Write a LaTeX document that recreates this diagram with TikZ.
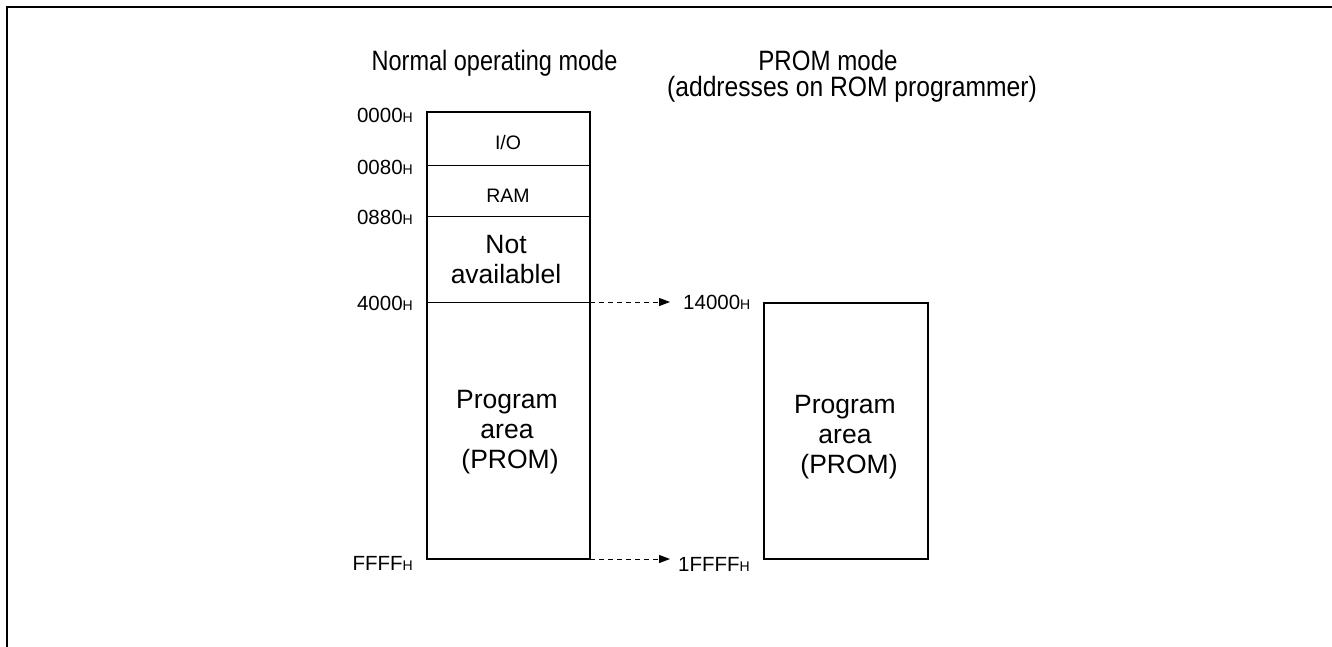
\documentclass[tikz,border=0pt]{standalone}
\usepackage{fontspec}
\setmainfont{Liberation Sans}
\usetikzlibrary{arrows.meta}
\newcommand\Hx{{\fontsize{14}{14}\selectfont H}}
\begin{document}
\begin{tikzpicture}[x=1pt,y=-1pt,
  bigtext/.style={font=\fontsize{26.5}{30}\selectfont, align=center, inner sep=0pt, anchor=base},
  smalltext/.style={font=\fontsize{19.5}{22}\selectfont, inner sep=0pt, anchor=base},
  addrl/.style={font=\fontsize{20.5}{22}\selectfont, inner sep=0pt, anchor=base east},
  addrr/.style={font=\fontsize{20.5}{22}\selectfont, inner sep=0pt, anchor=base west},
  titletext/.style={font=\fontsize{28}{28}\selectfont, inner sep=0pt, anchor=base},
  membox/.style={draw, line width=2pt},
  sepline/.style={draw, line width=1pt},
  dasharrow/.style={line width=1pt, dash pattern=on 5pt off 4pt, -{Triangle[length=11pt,width=8pt]}},
  framestyle/.style={line width=2pt}]
\useasboundingbox (0,0) rectangle (1332,647);
% frame
\draw[framestyle] (7,650) -- (7,7) -- (1336,7);
% titles
\node[titletext] (t1) at (494.5,71) {\scalebox{0.84}[1]{Normal operating mode}};
\node[titletext] (t2) at (828,71) {\scalebox{0.86}[1]{PROM mode}};
\node[titletext] (t3) at (852,97) {\scalebox{0.88}[1]{(addresses on ROM programmer)}};
% left box
\draw[membox] (427,112) rectangle (590,559);
\coordinate (s1l) at (427,166); \coordinate (s1r) at (590,166);
\coordinate (s2l) at (427,216); \coordinate (s2r) at (590,216);
\coordinate (s3l) at (427,302); \coordinate (s3r) at (590,302);
\coordinate (s4r) at (590,559);
\draw[sepline] (s1l) -- (s1r);
\draw[sepline] (s2l) -- (s2r);
\draw[sepline] (s3l) -- (s3r);
\node[smalltext] (io) at (508,150) {I/O};
\node[smalltext] (ram) at (508,202) {RAM};
\node[bigtext] (na) at (506,283) {Not\\availablel};
\node[bigtext] (pa1) at (507,468) {Program\\area\\\hspace*{6pt}(PROM)};
% left addresses
\node[addrl] (a0) at (413,123) {0000\Hx};
\node[addrl] (a1) at (413,175) {0080\Hx};
\node[addrl] (a2) at (413,224) {0880\Hx};
\node[addrl] (a3) at (413,310) {4000\Hx};
\node[addrl] (a4) at (413,570) {FFFF\Hx};
% right box
\draw[membox] (764,303) rectangle (928,559);
\node[bigtext] (pa2) at (845,473) {Program\\area\\\hspace*{8pt}(PROM)};
% right addresses
\node[addrr] (b0) at (683,309) {14000\Hx};
\node[addrr] (b1) at (678,571) {1FFFF\Hx};
% arrows
\coordinate (e0) at (670,302);
\coordinate (e1) at (670,559);
\draw[dasharrow] (s3r) -- (e0);
\draw[dasharrow] (s4r) -- (e1);
\end{tikzpicture}
\end{document}
